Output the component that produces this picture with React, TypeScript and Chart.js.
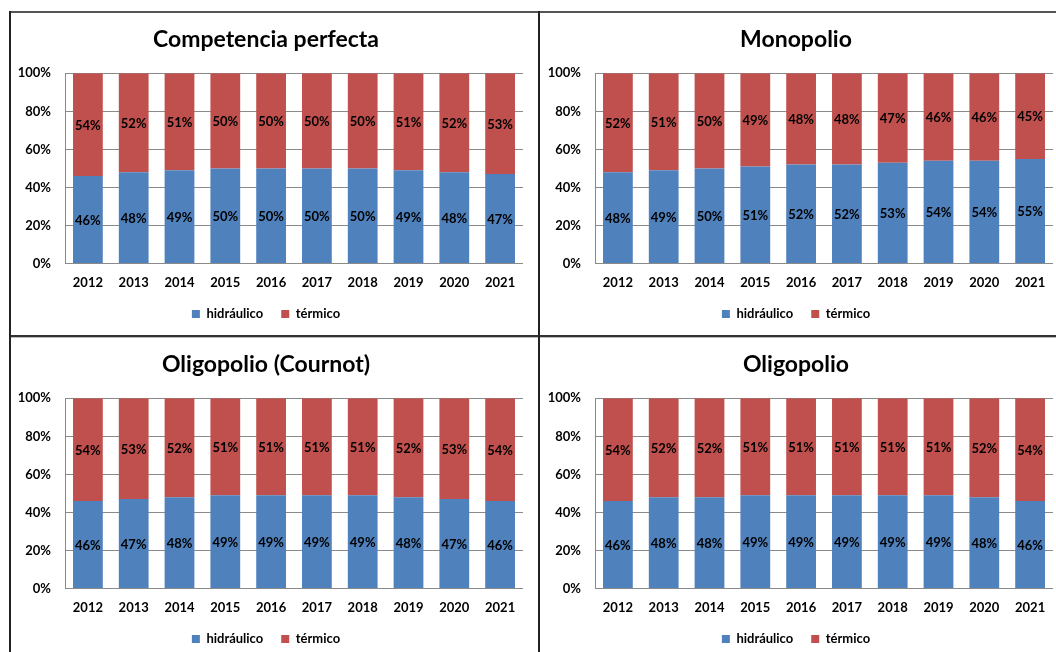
import React, { useEffect, useRef } from "react";
import { Chart, registerables } from "chart.js";

Chart.register(...registerables);

// ---- Data ----
const years = ["2012", "2013", "2014", "2015", "2016", "2017", "2018", "2019", "2020", "2021"];
const seriesNames = ["hidráulico", "térmico"];
const yTicks = [0, 20, 40, 60, 80, 100];

const compHidraulico = [46, 48, 49, 50, 50, 50, 50, 49, 48, 47];
const compTermico = [54, 52, 51, 50, 50, 50, 50, 51, 52, 53];

const monoHidraulico = [48, 49, 50, 51, 52, 52, 53, 54, 54, 55];
const monoTermico = [52, 51, 50, 49, 48, 48, 47, 46, 46, 45];

const cournotHidraulico = [46, 47, 48, 49, 49, 49, 49, 48, 47, 46];
const cournotTermico = [54, 53, 52, 51, 51, 51, 51, 52, 53, 54];

const oligoHidraulico = [46, 48, 48, 49, 49, 49, 49, 49, 48, 46];
const oligoTermico = [54, 52, 52, 51, 51, 51, 51, 51, 52, 54];

const titles = ["Competencia perfecta", "Monopolio", "Oligopolio (Cournot)", "Oligopolio"];

// ---- Styles ----
const BLUE = "#4F81BD";
const RED = "#C0504D";
const FONT = "Lato";
const GRID = "#8a8a8a";

const segLabels = {
  id: "segLabels",
  afterDatasetsDraw(chart: any) {
    const ctx = chart.ctx;
    ctx.save();
    ctx.font = `bold 13px ${FONT}`;
    ctx.fillStyle = "#000";
    ctx.textAlign = "center";
    ctx.textBaseline = "middle";
    chart.data.datasets.forEach((ds: any, i: number) => {
      const meta = chart.getDatasetMeta(i);
      meta.data.forEach((bar: any, j: number) => {
        const v = ds.data[j];
        const y = (bar.y + bar.base) / 2;
        ctx.fillText(`${v}%`, bar.x, y + 1);
      });
    });
    ctx.restore();
  },
};

function Panel(props: { title: string; hid: number[]; ter: number[]; left: number; top: number }) {
  const ref = useRef<HTMLCanvasElement>(null);
  useEffect(() => {
    const smallFont = { family: FONT, size: 13, weight: "bold" as const };
    const chart = new Chart(ref.current!, {
      type: "bar",
      data: {
        labels: years,
        datasets: [
          { label: seriesNames[0], data: props.hid, backgroundColor: BLUE, barPercentage: 0.65, categoryPercentage: 1 },
          { label: seriesNames[1], data: props.ter, backgroundColor: RED, barPercentage: 0.65, categoryPercentage: 1 },
        ],
      },
      options: {
        animation: false,
        responsive: false,
        devicePixelRatio: 1,
        layout: { padding: { left: 0, right: 16, top: 0, bottom: 5.5 } },
        plugins: {
          title: {
            display: true,
            text: props.title,
            color: "#000",
            font: { family: FONT, size: 23, weight: "bold" },
            padding: { top: 15.2, bottom: 19.5 },
          },
          legend: {
            position: "bottom",
            labels: {
              boxWidth: 8,
              boxHeight: 8,
              padding: 18,
              color: "#000",
              font: smallFont,
            },
          },
          tooltip: { enabled: false },
        },
        scales: {
          x: {
            stacked: true,
            grid: { display: false, drawTicks: false },
            border: { display: false },
            ticks: { color: "#000", font: smallFont, padding: 12 },
            afterFit: (s: any) => {
              s.height = 26;
            },
          },
          y: {
            stacked: true,
            min: yTicks[0],
            max: yTicks[yTicks.length - 1],
            grid: { color: GRID, drawTicks: false, lineWidth: 1 },
            border: { color: GRID },
            ticks: {
              stepSize: 20,
              color: "#000",
              font: smallFont,
              padding: 14,
              callback: (v: any) => `${v}%`,
            },
            afterFit: (s: any) => {
              s.width = 56;
            },
          },
        },
      },
      plugins: [segLabels],
    });
    return () => chart.destroy();
  }, []);
  return (
    <canvas
      ref={ref}
      width={530}
      height={325}
      style={{ position: "absolute", left: props.left, top: props.top, width: 530, height: 325 }}
    />
  );
}

const line = (s: React.CSSProperties) => <div style={{ position: "absolute", zIndex: 2, ...s }} />;

export default function App() {
  return (
    <div
      style={{
        position: "fixed",
        left: 0,
        top: 0,
        width: 1056,
        height: 652,
        overflow: "hidden",
        background: "#fff",
      }}
    >
      <Panel title={titles[0]} hid={compHidraulico} ter={compTermico} left={9} top={11} />
      <Panel title={titles[1]} hid={monoHidraulico} ter={monoTermico} left={539} top={11} />
      <Panel title={titles[2]} hid={cournotHidraulico} ter={cournotTermico} left={9} top={336} />
      <Panel title={titles[3]} hid={oligoHidraulico} ter={oligoTermico} left={539} top={336} />
      {line({ left: 9, top: 11, width: 1047, height: 2, background: "#555" })}
      {line({ left: 9, top: 335, width: 1047, height: 2, background: "#333" })}
      {line({ left: 9, top: 337, width: 1047, height: 1, background: "#bbb" })}
      {line({ left: 9, top: 11, width: 2, height: 641, background: "#222" })}
      {line({ left: 538, top: 11, width: 2, height: 641, background: "#222" })}
    </div>
  );
}
